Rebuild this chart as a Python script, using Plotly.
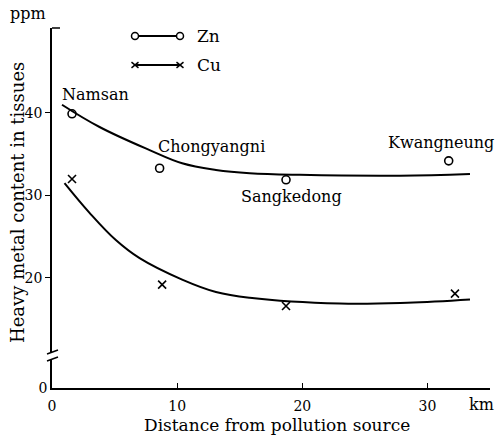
import plotly.graph_objects as go

# Sampling sites: distance from the pollution source (km)
sites = ["Namsan", "Chongyangni", "Sangkedong", "Kwangneung"]
site_km = [1.6, 8.6, 18.7, 31.7]
cu_km = [1.6, 8.8, 18.7, 32.2]

# Measured heavy metal content (ppm)
zn_ppm = [39.9, 33.3, 31.9, 34.2]
cu_ppm = [32.0, 19.2, 16.6, 18.1]

# Fitted trend curves, sampled along distance
zn_fit_km = [0.8, 3.8, 7.8, 10.4, 13.1, 15.8, 19.8, 27.8, 33.4]
zn_fit_ppm = [41.0, 38.3, 35.5, 33.9, 33.1, 32.7, 32.5, 32.4, 32.6]
cu_fit_km = [1.0, 3.0, 5.1, 7.0, 10.4, 13.1, 15.8, 23.0, 28.4, 33.4]
cu_fit_ppm = [31.5, 27.9, 24.6, 22.4, 19.8, 18.3, 17.6, 16.9, 17.0, 17.4]

x_ticks = [0, 10, 20, 30]
y_ticks_upper = [20, 30, 40]
y_ticks_lower = [0]

FONT = "DejaVu Serif"
INK = "black"

W, H = 501, 438
ML, MR, MT, MB = 52, 11, 28, 50
PW, PH = W - ML - MR, H - MT - MB


def px(x):
    return (x - ML) / PW


def py(y):
    return (H - MB - y) / PH


fig = go.Figure()

fig.add_trace(go.Scatter(x=zn_fit_km, y=zn_fit_ppm, mode="lines",
                         line=dict(color=INK, width=2, shape="spline", smoothing=1.1),
                         showlegend=False, hoverinfo="skip"))
fig.add_trace(go.Scatter(x=cu_fit_km, y=cu_fit_ppm, mode="lines",
                         line=dict(color=INK, width=2, shape="spline", smoothing=1.1),
                         showlegend=False, hoverinfo="skip"))
fig.add_trace(go.Scatter(x=site_km, y=zn_ppm, mode="markers", name="Zn",
                         marker=dict(symbol="circle-open", size=8, color=INK,
                                     line=dict(width=1.6, color=INK)),
                         showlegend=False))
fig.add_trace(go.Scatter(x=cu_km, y=cu_ppm, mode="markers", name="Cu",
                         marker=dict(symbol="x-thin", size=8, color=INK,
                                     line=dict(width=1.6, color=INK)),
                         showlegend=False))
# empty trace so the lower (broken) segment of the y axis gets its own subplot
fig.add_trace(go.Scatter(x=[], y=[], xaxis="x", yaxis="y2", mode="markers",
                         showlegend=False, hoverinfo="skip"))

# Site names next to the Zn points
label_shift = {
    "Namsan": (23, 19),
    "Chongyangni": (52, 22),
    "Sangkedong": (5, -17),
    "Kwangneung": (-8, 18),
}
for name, xv, yv in zip(sites, site_km, zn_ppm):
    dx, dy = label_shift[name]
    fig.add_annotation(x=xv, y=yv, xref="x", yref="y", text=name,
                       showarrow=False, xshift=dx, yshift=dy,
                       xanchor="center", yanchor="middle",
                       font=dict(family=FONT, size=16, color=INK))

shapes = []
# small cap at the top of the y axis
shapes.append(dict(type="line", xref="paper", yref="paper",
                   x0=px(52), x1=px(60), y0=py(28), y1=py(28),
                   line=dict(color=INK, width=1.5)))
# axis break marks
for yb in (352, 359):
    shapes.append(dict(type="line", xref="paper", yref="paper",
                       x0=px(47), x1=px(58), y0=py(yb + 2), y1=py(yb - 2),
                       line=dict(color=INK, width=1.5)))

# legend drawn as line samples with end markers
leg_rows = [("Zn", 36, "o"), ("Cu", 65, "x")]
for label, yrow, sym in leg_rows:
    shapes.append(dict(type="line", xref="paper", yref="paper",
                       x0=px(135), x1=px(180), y0=py(yrow), y1=py(yrow),
                       line=dict(color=INK, width=1.8)))
    for xc in (135, 180):
        r = 3.5
        if sym == "o":
            shapes.append(dict(type="circle", xref="paper", yref="paper",
                               x0=px(xc - r), x1=px(xc + r),
                               y0=py(yrow + r), y1=py(yrow - r),
                               fillcolor="white", line=dict(color=INK, width=1.5)))
        else:
            for s in (1, -1):
                shapes.append(dict(type="line", xref="paper", yref="paper",
                                   x0=px(xc - r), x1=px(xc + r),
                                   y0=py(yrow + s * r * 0.8), y1=py(yrow - s * r * 0.8),
                                   line=dict(color=INK, width=1.5)))
    fig.add_annotation(x=px(195), y=py(yrow), xref="paper", yref="paper",
                       text=label, showarrow=False, xanchor="left", yanchor="middle",
                       font=dict(family=FONT, size=17, color=INK))


def paper_text(text, x, y, size, angle=0):
    fig.add_annotation(x=px(x), y=py(y), xref="paper", yref="paper", text=text,
                       showarrow=False, xanchor="center", yanchor="middle",
                       textangle=angle, font=dict(family=FONT, size=size, color=INK))


paper_text("ppm", 28, 14, 16)
paper_text("km", 481, 404, 16)
paper_text("Distance from pollution source", 277, 425, 17)
paper_text("Heavy metal content in tissues", 17, 203, 18, angle=-90)

fig.update_layout(
    width=W, height=H,
    margin=dict(l=ML, r=MR, t=MT, b=MB),
    paper_bgcolor="white", plot_bgcolor="white",
    font=dict(family=FONT, size=14, color=INK),
    shapes=shapes,
    xaxis=dict(range=[0, 35], tickvals=x_ticks, ticks="inside", ticklen=5,
               tickwidth=1.3, tickcolor=INK, showline=True, linecolor=INK,
               linewidth=1.5, showgrid=False, zeroline=False, anchor="y2",
               ticklabelstandoff=4,
               tickfont=dict(family=FONT, size=14, color=INK)),
    yaxis=dict(domain=[py(352), 1], range=[11.03, 50.3], tickvals=y_ticks_upper,
               ticks="outside", ticklen=5, tickwidth=1.3, tickcolor=INK,
               showline=True, linecolor=INK, linewidth=1.5, showgrid=False,
               zeroline=False, anchor="x",
               tickfont=dict(family=FONT, size=14, color=INK)),
    yaxis2=dict(domain=[0, py(359)], range=[0, 3.5], tickvals=y_ticks_lower,
                ticks="", showline=True, linecolor=INK, linewidth=1.5,
                showgrid=False, zeroline=False, anchor="x",
                tickfont=dict(family=FONT, size=14, color=INK)),
)

fig.write_html("out.html")
